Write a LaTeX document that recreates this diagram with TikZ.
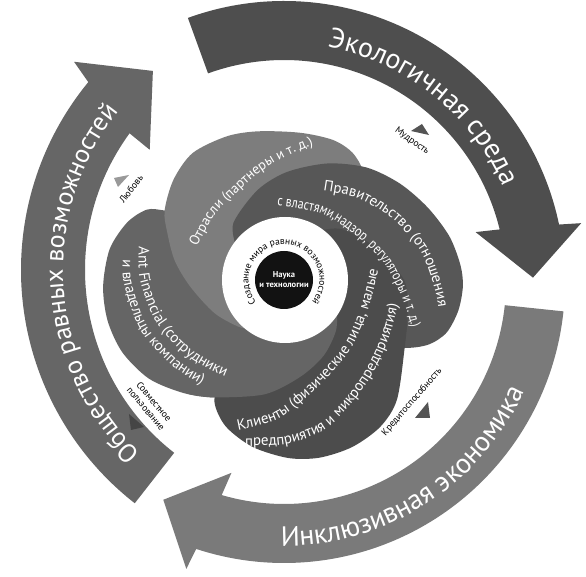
\documentclass[tikz,border=0pt]{standalone}
\usepackage{fontspec}
\setmainfont{PT Sans}
\newfontfamily\narrowfam{PT Sans}[FakeStretch=0.82]
\usetikzlibrary{decorations.text}

\definecolor{ecoarrow}{HTML}{4E4E4E}
\definecolor{inclarrow}{HTML}{7A7A7A}
\definecolor{socarrow}{HTML}{666666}
\definecolor{industry}{HTML}{7D7D7D}
\definecolor{govt}{HTML}{575757}
\definecolor{clients}{HTML}{4C4C4C}
\definecolor{antfin}{HTML}{656565}

\newcommand\arrowfont{\fontsize{28}{32}\selectfont\color{white}}
\newcommand\leftarrowfont{\fontsize{26}{30}\selectfont\color{white}}
\newcommand\petalfont{\fontsize{15}{17}\selectfont\color{white}}
\newcommand\smallpetalfont{\fontsize{14}{16}\selectfont\color{white}}
\newcommand\narrowpetalfont{\narrowfam\fontsize{14.5}{16}\selectfont\color{white}}
\newcommand\corefont{\fontsize{9.5}{11}\selectfont}

\tikzset{
  textpath/.style={decorate, decoration={text along path, text={#1}}},
  ctextpath/.style={decorate, decoration={text along path, text align=center, text={#1}}},
  smalllabel/.style={font=\fontsize{9.5}{10.5}\selectfont, align=center, inner sep=0pt}
}

\begin{document}
\begin{tikzpicture}[x=1pt,y=1pt]
\fill[white] (-284,-295) rectangle (302,282);
\useasboundingbox (-284,-295) rectangle (302,282);

% outer ring of arrows
\foreach \rot/\tail/\col in {0/110/ecoarrow, -120/114/inclarrow}
  \fill[\col, rotate=\rot] (\tail:281) arc[start angle=\tail, end angle=11.8, radius=281]
    -- (11.2:303) -- (1:249) -- (14.6:198) -- (13.7:222)
    arc[start angle=13.7, end angle=\tail, radius=222] -- cycle;
\begin{scope}[shift={(33,12)}]
  \fill[socarrow] (232:296) arc[start angle=232, end angle=140.6, radius=296]
    -- (139.4:320) -- (129.5:258) -- (144.3:206) -- (143.9:232)
    arc[start angle=143.9, end angle=232, radius=232] -- cycle;
  \path[ctextpath={|\leftarrowfont|Общество равных возможностей}] (228:254) arc[start angle=228, end angle=139.5, radius=254];
\end{scope}

\path[ctextpath={|\arrowfont|Экологичная среда}] (85:239) arc[start angle=85, end angle=18, radius=239];
\path[ctextpath={|\arrowfont|Инклюзивная экономика}] (255:264) arc[start angle=255, end angle=350, radius=264];

% petals
\begin{scope}[shift={(1,2)}]
  \fill[antfin] (0,0) -- plot[smooth] coordinates {(-30:60) (-45:72) (-63:85) (-81:98) (-100:116) (-121:137)
    (-132:152) (-144:168) (-156:178) (-167:182) (-178:182) (170:178) (160:168) (153:155) (150:139) (146:118) (142:90)} -- cycle;
  \fill[industry] (0,0) -- plot[smooth] coordinates {(235:60) (225:66) (205:78) (184:95) (170:112) (158:127)
    (150:139) (138:150) (126:157) (112:155) (100:151) (84:148) (71:148) (62:144) (54:133) (48:112) (44:85)} -- cycle;
  \fill[govt] (0,0) -- plot[smooth] coordinates {(145:60) (132:77) (107:94) (89:108) (70:124) (54:139) (40:150)
    (27:160) (15:170) (5:176) (-2:178) (-10:176) (-18:170) (-24:158) (-29:140) (-34:115) (-38:85)} -- cycle;
  \fill[clients] (0,0) -- plot[smooth] coordinates {(55:60) (42:76) (20:96) (0:119) (-15:127) (-30:138) (-47:164)
    (-57:175) (-68:180) (-79:181) (-89:178) (-101:170) (-112:158) (-120:141) (-124:115) (-127:80)} -- cycle;
  % tail of Ant Financial lies over the clients
  \fill[antfin] (0,0) -- plot[smooth] coordinates {(-30:60) (-45:72) (-63:85) (-81:98) (-100:116) (-121:137) (-130:149)} -- cycle;
  \fill[white] (0,0) circle[radius=63];
\end{scope}

% petal texts
\path[textpath={|\smallpetalfont|Отрасли (партнеры и т. д.)}] plot[smooth] coordinates {(-87,35) (-70,66) (-51,86) (-24,110) (3,126) (34,139) (60,146)};
\path[textpath={|\petalfont|Правительство (отношения}] plot[smooth] coordinates {(39,91) (76,83) (112,60) (138,28) (152,-12) (156,-40) (157,-60)};
\path[textpath={|\narrowpetalfont|с властями,надзор, регуляторы и т. д.)}] plot[smooth] coordinates {(-7,76) (36,69) (71,47) (99,20) (119,-18) (130,-58) (133,-110)};
\path[textpath={|\petalfont|Клиенты (физические лица, малые}] plot[smooth] coordinates {(-46,-148) (-4,-136) (36,-103) (66,-68) (84,-28) (96,20) (100,50)};
\path[textpath={|\petalfont|предприятия  и микропредприятия)}] plot[smooth] coordinates {(-39,-164) (1,-162) (37,-150) (63,-127) (89,-91) (107,-50) (117,-3) (119,30)};
\path[textpath={|\petalfont|Ant Financial (сотрудники}] plot[smooth] coordinates {(-145,35) (-144,2) (-129,-38) (-104,-68) (-74,-88) (-44,-100) (-10,-106)};
\path[textpath={|\petalfont|и владельцы компании)}] plot[smooth] coordinates {(-161,22) (-160,-2) (-144,-47) (-115,-81) (-82,-103) (-50,-116) (-20,-122)};

% core
\path[ctextpath={|\corefont|Создание мира равных возможностей}] (0,2) ++(230:35.5) arc[start angle=230, end angle=-50, radius=35.5];
\node[circle, fill=black!93, minimum size=58pt, inner sep=0pt, text=white, align=center,
  font=\bfseries\fontsize{8.5}{10}\selectfont] (core) at (0,2) {Наука\\и технологии};

% small labels with markers
\node[smalllabel, rotate=-36] (wisdom) at (128,141) {Мудрость};
\fill[black!67] (138,158) -- (127,151) -- (145,147) -- cycle;
\node[smalllabel, rotate=52] (love) at (-153,93) {Любовь};
\fill[black!40] (-155,107) -- (-170,104) -- (-166,95) -- cycle;
\node[smalllabel, rotate=-50] (sharing) at (-134,-123) {Совместное\\пользование};
\fill[black!73] (-155,-132) -- (-153,-148) -- (-140,-145) -- cycle;
\node[smalllabel, rotate=49] (credit) at (128,-120) {Кредитоспособность};
\fill[black!67] (131,-136) -- (144,-120) -- (146,-136) -- cycle;
\end{tikzpicture}
\end{document}
